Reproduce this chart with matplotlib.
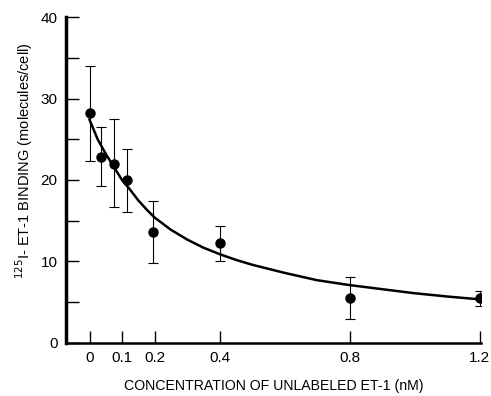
import matplotlib
matplotlib.use("Agg")
import matplotlib.pyplot as plt
import numpy as np

plt.rcParams['font.family'] = ['Liberation Sans', 'DejaVu Sans']

# measured binding (molecules/cell) with error bar limits
conc = [0, 0.035, 0.075, 0.115, 0.195, 0.4, 0.8, 1.2]
binding = [28.2, 22.8, 22.0, 20.0, 13.6, 12.3, 5.5, 5.5]
err_top = [34.0, 26.5, 27.5, 23.8, 17.4, 14.4, 8.1, 6.4]
err_bottom = [22.3, 19.3, 16.7, 16.1, 9.8, 10.1, 2.9, 4.5]

# fitted curve
curve_x = [0, 0.025, 0.05, 0.075, 0.1, 0.125, 0.15, 0.175, 0.2, 0.25, 0.3, 0.35,
           0.4, 0.45, 0.5, 0.6, 0.7, 0.8, 0.9, 1.0, 1.1, 1.2]
curve_y = [27.4, 25.0, 23.2, 21.6, 20.0, 18.8, 17.5, 16.4, 15.4, 13.9, 12.7, 11.7,
           10.9, 10.2, 9.6, 8.6, 7.7, 7.1, 6.6, 6.1, 5.7, 5.35]

xticks = [0, 0.1, 0.2, 0.4, 0.8, 1.2]
xticklabels = ['0', '0.1', '0.2', '0.4', '0.8', '1.2']

fig = plt.figure(figsize=(4.91, 3.96), dpi=100)
ax = fig.add_axes([0.134, 0.134, 0.846, 0.823])

binding = np.array(binding)
yerr = [binding - np.array(err_bottom), np.array(err_top) - binding]
ax.errorbar(conc, binding, yerr=yerr, fmt='o', color='black', ms=6.5,
            ecolor='black', elinewidth=0.8, capsize=3.5, capthick=0.8, zorder=3)
ax.plot(curve_x, curve_y, color='black', lw=1.8, zorder=2)

ax.set_xlim(-0.073, 1.205)
ax.set_ylim(0, 40)
ax.spines['top'].set_visible(False)
ax.spines['right'].set_visible(False)
ax.spines['left'].set_linewidth(2.5)
ax.spines['bottom'].set_linewidth(1.8)

ax.set_xticks(xticks)
ax.set_xticklabels(xticklabels)
ax.set_yticks([0, 10, 20, 30, 40])
ax.set_yticks([5, 15, 25, 35], minor=True)
ax.tick_params(axis='both', which='both', direction='in', length=9, width=1.0,
               labelsize=11, pad=6)

ax.set_xlabel('CONCENTRATION OF UNLABELED ET-1 (nM)', fontsize=10.2, labelpad=10)
ax.set_ylabel('$^{125}$I- ET-1 BINDING (molecules/cell)', fontsize=10.5, labelpad=14)
ax.yaxis.set_label_coords(-0.075, 0.56)

fig.savefig('out.png', dpi=100)
